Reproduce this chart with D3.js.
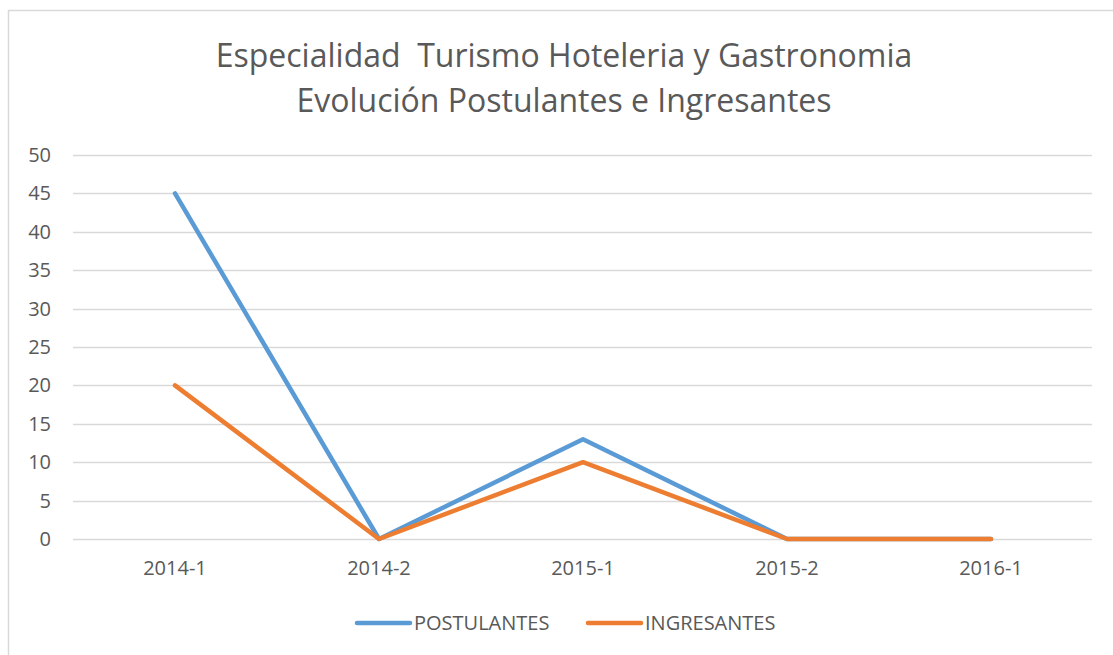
<!DOCTYPE html>
<html>
  <head>
    <meta charset="utf-8">
    <script src="https://cdn.jsdelivr.net/npm/d3@7"></script>
    <style>
      body { margin: 0; background: #fff; }
      text { font-family: "Open Sans", "Noto Sans", sans-serif; fill: #595959; }
    </style>
  </head>
  <body>
    <div id="chart"></div>
    <script>
      // data
      const categories = ["2014-1", "2014-2", "2015-1", "2015-2", "2016-1"];
      const postulantes = [45, 0, 13, 0, 0];
      const ingresantes = [20, 0, 10, 0, 0];
      const yTicks = [0, 5, 10, 15, 20, 25, 30, 35, 40, 45, 50];
      const titleLines = ["Especialidad  Turismo Hoteleria y Gastronomia", "Evolución Postulantes e Ingresantes"];

      const W = 1113, H = 655;
      const plot = {left: 73, right: 1093, top: 155, bottom: 539};

      const svg = d3.select("#chart").append("svg")
          .attr("width", W)
          .attr("height", H);

      // chart frame
      svg.append("path")
         .attr("d", "M8.5," + (H + 2) + " V10.5 H" + (W + 2))
         .attr("fill", "none")
         .attr("stroke", "#D9D9D9")
         .attr("stroke-width", 1.5);

      svg.append("g").selectAll("text")
         .data(titleLines)
         .enter().append("text")
           .attr("x", 564)
           .attr("y", (d, i) => 67 + i * 45)
           .attr("text-anchor", "middle")
           .style("font-size", "32px")
           .style("white-space", "pre")
           .text(d => d);

      let x = d3.scaleBand()
                .domain(categories)
                .range([plot.left, plot.right]);

      let y = d3.scaleLinear()
                .domain([0, 50])
                .range([plot.bottom, plot.top]);

      // gridlines
      svg.append("g")
         .selectAll("line")
         .data(yTicks)
         .enter().append("line")
           .attr("x1", plot.left)
           .attr("x2", plot.right - 1)
           .attr("y1", d => Math.round(y(d)) + 0.5)
           .attr("y2", d => Math.round(y(d)) + 0.5)
           .attr("stroke", "#D9D9D9")
           .attr("stroke-width", 1.5);

      // y axis labels
      let yAxis = svg.append("g")
         .attr("transform", "translate(" + (plot.left - 22) + ",0)")
         .call(d3.axisLeft(y).tickValues(yTicks).tickSize(0).tickPadding(0));
      yAxis.select(".domain").remove();
      yAxis.selectAll("text").style("font-size", "20px").attr("fill", "#595959");

      // x axis labels
      let xAxis = svg.append("g")
         .attr("transform", "translate(0," + (plot.bottom + 24) + ")")
         .call(d3.axisBottom(x).tickSize(0).tickPadding(0));
      xAxis.select(".domain").remove();
      xAxis.selectAll("text").style("font-size", "20px").attr("fill", "#595959").attr("dy", "0.6em");

      const series = [
        {name: "POSTULANTES", values: postulantes, color: "#5B9BD5"},
        {name: "INGRESANTES", values: ingresantes, color: "#ED7D31"}
      ];

      let line = d3.line()
                   .x((d, i) => x(categories[i]) + x.bandwidth() / 2)
                   .y(d => y(d));

      svg.append("g")
         .selectAll("path")
         .data(series)
         .enter().append("path")
           .attr("d", d => line(d.values))
           .attr("fill", "none")
           .attr("stroke", d => d.color)
           .attr("stroke-width", 4.5)
           .attr("stroke-linejoin", "round")
           .attr("stroke-linecap", "round");

      // legend
      let legend = svg.append("g")
         .selectAll("g")
         .data(series)
         .enter().append("g")
           .attr("transform", (d, i) => "translate(" + (357 + i * 231) + ",623)");

      legend.append("line")
            .attr("x1", 0).attr("x2", 53)
            .attr("stroke", d => d.color)
            .attr("stroke-width", 4.5)
            .attr("stroke-linecap", "round");

      legend.append("text")
            .attr("x", 57)
            .attr("dy", "0.36em")
            .style("font-size", "20px")
            .text(d => d.name);
    </script>
  </body>
</html>
